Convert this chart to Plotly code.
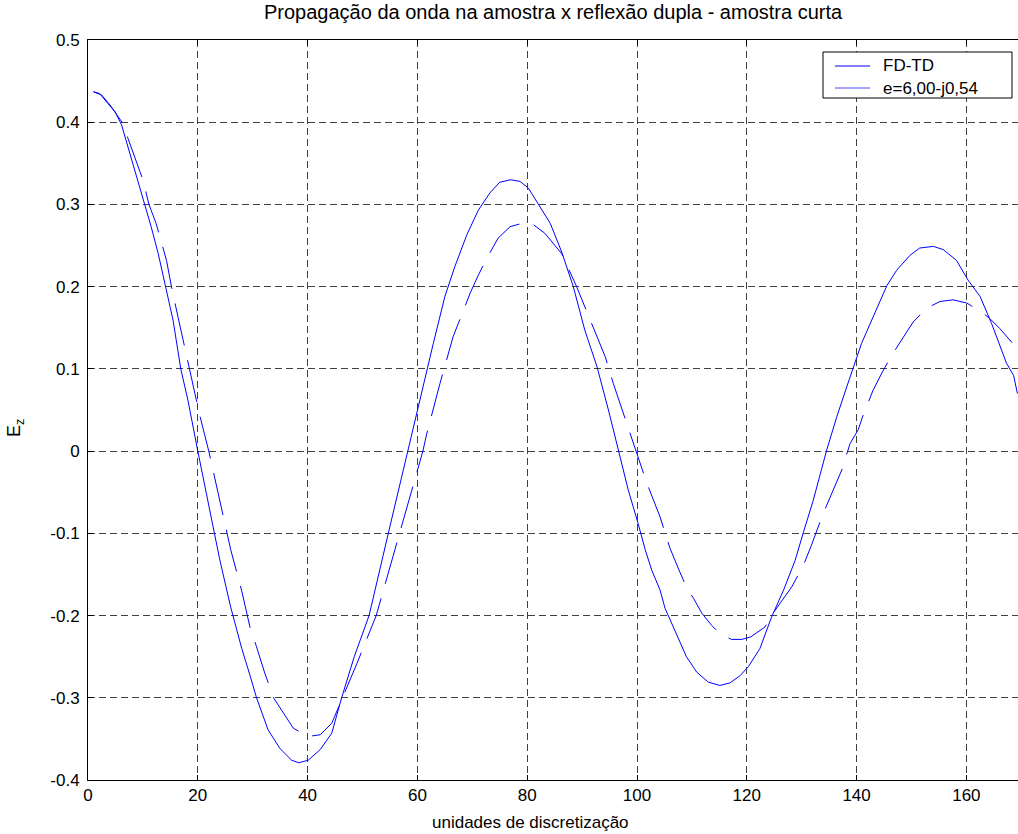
import plotly.graph_objects as go

# FD-TD (solid)
x_fdtd = [1, 2.1, 3.6, 4.9, 6.1, 7.0, 7.9, 9.1, 10.3, 11.5, 12.8, 14.1, 15.5, 16.9, 18.2, 20.0,
          22, 24, 26, 28, 29.5, 30.7, 32.8, 35.0, 37.1, 38.4, 40.1, 42.3, 44.4, 46.2, 48.5, 51.2,
          54.7, 58.2, 60.2, 61.1, 62.9, 65.0, 66.8, 69.0, 71.1, 73.2, 75.0, 77.0, 78.7, 80.2,
          82.0, 84.2, 86.3, 88.4, 90.5, 92.7, 94.8, 96.6, 98.4, 100.2, 101.5, 102.7, 104.2,
          105.1, 107.2, 109.0, 110.9, 113.0, 115.1, 116.9, 118.8, 120.3, 122.4, 124.5, 126.7,
          128.8, 130.3, 132.1, 134.5, 136.4, 138.2, 139.4, 140.9, 143.0, 145.5, 147.3, 149.7,
          151.5, 154.0, 155.8, 158.2, 160.3, 162.5, 164.6, 166.1, 167.3, 168.6, 169.3]
y_fdtd = [0.437, 0.435, 0.423, 0.413, 0.397, 0.376, 0.358, 0.330, 0.300, 0.273, 0.240, 0.201,
          0.159, 0.100, 0.062, 0.000,
          -0.067, -0.132, -0.190, -0.240, -0.2725, -0.300, -0.339, -0.362, -0.376, -0.379,
          -0.376, -0.363, -0.343, -0.300, -0.250, -0.200,
          -0.100, 0.000, 0.055, 0.082, 0.131, 0.188, 0.224, 0.263, 0.293, 0.314, 0.327, 0.330,
          0.328, 0.320,
          0.301, 0.277, 0.242, 0.200, 0.147, 0.103, 0.050, 0.000, -0.047, -0.088, -0.120,
          -0.145, -0.169,
          -0.191, -0.222, -0.250, -0.269, -0.281, -0.285, -0.282, -0.273, -0.262, -0.240,
          -0.202, -0.169,
          -0.133, -0.099, -0.060, 0.000, 0.042, 0.078, 0.101, 0.131, 0.163, 0.201, 0.220,
          0.238,
          0.247, 0.249, 0.245, 0.232, 0.208, 0.188, 0.155, 0.129, 0.107, 0.092, 0.070]

# e=6,00-j0,54 (dashed)
x_eps = [1, 2.5, 4.0, 6.2, 7.3, 8.5, 10.0, 11.1, 12.4, 14.3, 15.2, 16.4, 18.5, 20.3, 22.0,
         24, 26, 28, 29.5, 30.7, 32.2, 33.8, 35.6, 37.4, 40.1, 42.3, 44.4, 46.2, 49.0, 52.5,
         56.8, 61.0, 61.7, 64.1, 66.5, 69.6, 71.1, 72.6, 74.7, 76.9, 79.6, 81.0, 83.2, 86.3,
         89.0, 92.0, 94.2, 95.7, 98.1, 99.9, 101.8, 104.2, 106.0, 107.8, 109.1, 110.3, 111.8,
         113.6, 115.1, 117.2, 119.1, 120.7, 123.3, 124.8, 128.2, 130.3, 131.8, 133.9, 135.7,
         137.3, 138.8, 140.3, 141.2, 143.0, 144.6, 146.1, 147.6, 150.3, 152.8, 155.2, 157.6,
         160.1, 162.8, 164.3, 166.1, 168.3]
y_eps = [0.437, 0.433, 0.421, 0.400, 0.380, 0.358, 0.330, 0.300, 0.277, 0.232, 0.200, 0.163,
         0.100, 0.045, 0.000,
         -0.060, -0.120, -0.170, -0.214, -0.238, -0.270, -0.300, -0.319, -0.337, -0.347,
         -0.345, -0.331, -0.303, -0.258, -0.200,
         -0.100, 0.000, 0.021, 0.082, 0.139, 0.192, 0.214, 0.234, 0.259, 0.273, 0.278, 0.276,
         0.265, 0.240,
         0.200, 0.151, 0.115, 0.082, 0.034, 0.000, -0.039, -0.080, -0.118, -0.147, -0.167,
         -0.179, -0.197,
         -0.212, -0.222, -0.229, -0.229, -0.226, -0.214, -0.197, -0.165, -0.139, -0.114,
         -0.076, -0.047,
         -0.023, 0.009, 0.026, 0.044, 0.074, 0.095, 0.113, 0.129, 0.157, 0.174, 0.182, 0.184,
         0.180, 0.169, 0.161, 0.149, 0.132]

series_names = ["FD-TD", "e=6,00-j0,54"]

x_ticks = [0, 20, 40, 60, 80, 100, 120, 140, 160]
y_ticks = [-0.4, -0.3, -0.2, -0.1, 0, 0.1, 0.2, 0.3, 0.4, 0.5]
y_ticklabels = ["-0.4", "-0.3", "-0.2", "-0.1", "0", "0.1", "0.2", "0.3", "0.4", "0.5"]

title_text = "Propagação da onda na amostra x reflexão dupla - amostra curta"
xlabel = "unidades de discretização"
ylabel = "E<sub>z</sub>"

FONT = "Liberation Sans, Arial, Helvetica, sans-serif"

# plot-area geometry in pixels (for paper-coordinate helpers)
L, R, T, B = 88, 1018, 40, 780


def px(xp):
    return (xp - L) / (R - L)


def py(yp):
    return (B - yp) / (B - T)


fig = go.Figure()
fig.add_trace(go.Scatter(x=x_fdtd, y=y_fdtd, mode="lines", name=series_names[0],
                         line=dict(color="#0000ff", width=1), showlegend=False))
fig.add_trace(go.Scatter(x=x_eps, y=y_eps, mode="lines", name=series_names[1],
                         line=dict(color="#0000ff", width=1, dash="43px,15px"),
                         showlegend=False))

grid = dict(showgrid=True, gridcolor="rgba(0,0,0,0.75)", gridwidth=1, griddash="7px,4px")

# hand-drawn legend box (MATLAB style)
shapes = [
    dict(type="rect", xref="paper", yref="paper", x0=px(823), x1=px(1012), y0=py(98), y1=py(52),
         line=dict(color="black", width=1), fillcolor="white", layer="above"),
    dict(type="line", xref="paper", yref="paper", x0=px(835), x1=px(870), y0=py(66), y1=py(66),
         line=dict(color="#0000ff", width=1), layer="above"),
    dict(type="line", xref="paper", yref="paper", x0=px(835), x1=px(870), y0=py(88), y1=py(88),
         line=dict(color="#4a4aff", width=1), layer="above"),
]

annotations = [
    dict(text=title_text, xref="paper", yref="paper", x=0.5, y=py(12),
         xanchor="center", yanchor="middle", showarrow=False, font=dict(size=20)),
    dict(text=xlabel, xref="paper", yref="paper", x=px(530), y=py(822),
         xanchor="center", yanchor="middle", showarrow=False, font=dict(size=17)),
    dict(text=ylabel, xref="paper", yref="paper", x=px(15), y=py(428),
         xanchor="center", yanchor="middle", showarrow=False, textangle=-90,
         font=dict(size=18)),
    dict(text=series_names[0], xref="paper", yref="paper", x=px(881), y=py(66),
         xanchor="left", yanchor="middle", showarrow=False, font=dict(size=17)),
    dict(text=series_names[1], xref="paper", yref="paper", x=px(881), y=py(88),
         xanchor="left", yanchor="middle", showarrow=False, font=dict(size=17)),
]

fig.update_layout(
    width=1018, height=834,
    margin=dict(l=L, r=1018 - R, t=T, b=834 - B),
    paper_bgcolor="white", plot_bgcolor="white",
    font=dict(family=FONT, size=17, color="black"),
    showlegend=False,
    xaxis=dict(range=[0, 169.4], tickvals=x_ticks, ticks="inside", ticklen=5,
               tickcolor="black", showline=True, linecolor="black", linewidth=1,
               mirror="ticks", zeroline=False, tickfont=dict(size=17), **grid),
    yaxis=dict(range=[-0.4, 0.5], tickvals=y_ticks, ticktext=y_ticklabels, ticks="inside",
               ticklen=5, tickcolor="black", showline=True, linecolor="black", linewidth=1,
               mirror=False, zeroline=False, tickfont=dict(size=17), ticklabelstandoff=4,
               **grid),
    shapes=shapes,
    annotations=annotations,
)

fig.write_html("out.html")
